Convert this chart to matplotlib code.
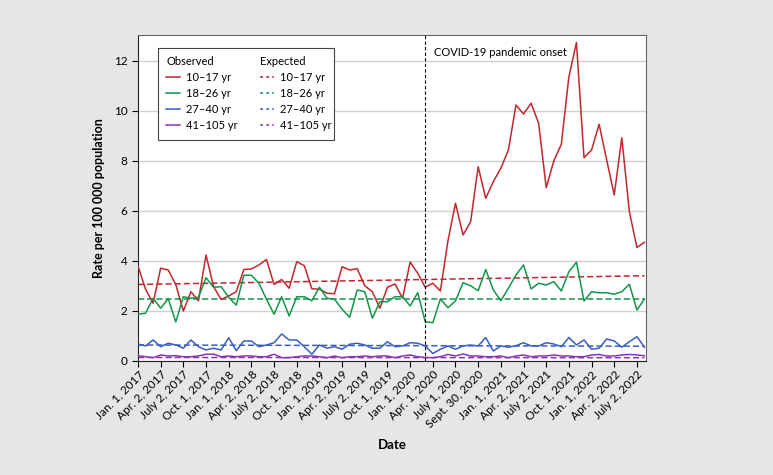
import matplotlib
matplotlib.use("Agg")
import matplotlib.pyplot as plt
import numpy as np
from matplotlib.lines import Line2D
from matplotlib.patches import Rectangle

plt.rcParams['font.family'] = ['Lato', 'DejaVu Sans']

# monthly rates, Jan 2017 .. Aug 2022
months = np.arange(68)

red_obs = [3.79, 2.86, 2.3, 3.7, 3.63, 3.05, 1.99, 2.76, 2.4, 4.23, 2.96, 2.45, 2.59, 2.76,
           3.65, 3.67, 3.83, 4.05, 3.05, 3.25, 2.9, 3.96, 3.8, 2.88, 2.86, 2.7, 2.68, 3.76,
           3.63, 3.68, 3.0, 2.76, 2.1, 2.94, 3.07, 2.5, 3.95, 3.5,
           2.94, 3.1, 2.79, 4.79, 6.3, 5.03, 5.56, 7.76, 6.5, 7.16, 7.7, 8.43, 10.23, 9.87,
           10.3, 9.5, 6.92, 7.99, 8.66, 11.36, 12.73, 8.12, 8.43, 9.46, 8.03, 6.63, 8.92,
           5.96, 4.53, 4.74]
green_obs = [1.86, 1.9, 2.5, 2.1, 2.48, 1.55, 2.56, 2.5, 2.54, 3.32, 2.94, 2.96, 2.54, 2.22,
             3.42, 3.42, 3.1, 2.46, 1.86, 2.56, 1.79, 2.56, 2.56, 2.4, 2.94, 2.5, 2.46, 2.06,
             1.74, 2.83, 2.76, 1.7, 2.36, 2.36, 2.56, 2.56, 2.19, 2.72,
             1.56, 1.52, 2.47, 2.12, 2.39, 3.12, 3.0, 2.8, 3.65, 2.83, 2.4, 2.9, 3.43, 3.83,
             2.87, 3.1, 3.03, 3.16, 2.79, 3.56, 3.94, 2.39, 2.76, 2.72, 2.72, 2.66, 2.76,
             3.06, 2.03, 2.47]
blue_obs = [0.67, 0.59, 0.83, 0.56, 0.7, 0.63, 0.5, 0.83, 0.56, 0.43, 0.5, 0.43, 0.92, 0.4,
            0.79, 0.79, 0.56, 0.63, 0.72, 1.07, 0.83, 0.83, 0.56, 0.26, 0.63, 0.5, 0.56, 0.46,
            0.66, 0.7, 0.63, 0.5, 0.5, 0.76, 0.56, 0.59, 0.72, 0.7,
            0.59, 0.29, 0.46, 0.59, 0.46, 0.59, 0.63, 0.59, 0.93, 0.39, 0.59, 0.54, 0.6, 0.72,
            0.59, 0.59, 0.72, 0.67, 0.56, 0.93, 0.63, 0.83, 0.46, 0.5, 0.87, 0.79, 0.54,
            0.76, 0.96, 0.54]
purple_obs = [0.2, 0.16, 0.12, 0.23, 0.19, 0.2, 0.16, 0.16, 0.19, 0.26, 0.26, 0.16, 0.19, 0.16,
              0.19, 0.19, 0.16, 0.16, 0.26, 0.12, 0.12, 0.16, 0.19, 0.19, 0.16, 0.12, 0.19, 0.12,
              0.16, 0.16, 0.19, 0.16, 0.19, 0.19, 0.12, 0.19, 0.23, 0.16,
              0.13, 0.12, 0.16, 0.25, 0.19, 0.27, 0.19, 0.19, 0.16, 0.16, 0.19, 0.12, 0.19, 0.23,
              0.16, 0.19, 0.19, 0.23, 0.19, 0.19, 0.16, 0.16, 0.23, 0.25, 0.19, 0.19, 0.23,
              0.25, 0.23, 0.2]

# expected (straight lines), start and end values
exp_months = [0, 67]
red_exp = [3.05, 3.40]
green_exp = [2.46, 2.46]
blue_exp = [0.63, 0.58]
purple_exp = [0.13, 0.12]

age_labels = ['10–17 yr', '18–26 yr', '27–40 yr', '41–105 yr']
colors = ['#c1272d', '#13964a', '#3b5dbf', '#8b35b5']

tick_pos = list(range(0, 67, 3))
tick_labels = ['Jan. 1, 2017', 'Apr. 2, 2017', 'July 2, 2017', 'Oct. 1, 2017',
               'Jan. 1, 2018', 'Apr. 2, 2018', 'July 2, 2018', 'Oct. 1, 2018',
               'Jan. 1, 2019', 'Apr. 2, 2019', 'July 2, 2019', 'Oct. 1, 2019',
               'Jan. 1, 2020', 'Apr. 1, 2020', 'July 1, 2020', 'Sept. 30, 2020',
               'Jan. 1, 2021', 'Apr. 2, 2021', 'July 2, 2021', 'Oct. 1, 2021',
               'Jan. 1, 2022', 'Apr. 2, 2022', 'July 2, 2022']
covid_onset = 38

fig = plt.figure(figsize=(7.73, 4.75), dpi=100, facecolor='#e6e6e6')
ax = fig.add_axes([0.1785, 0.2406, 0.6572, 0.6857])
ax.set_facecolor('white')

observed = [red_obs, green_obs, blue_obs, purple_obs]
expected = [red_exp, green_exp, blue_exp, purple_exp]

for vals, c in zip(expected, colors):
    ax.plot(exp_months, vals, color=c, lw=1.1, ls=(0, (4, 2)), zorder=2)
for vals, c in zip(observed, colors):
    ax.plot(months, vals, color=c, lw=1.1, zorder=3)

ax.axvline(covid_onset, color='black', lw=0.8, ls=(0, (3, 2)), zorder=4)
ax.text(covid_onset + 1.2, 12.35, 'COVID-19 pandemic onset', fontsize=8, va='center', ha='left')

ax.set_xlim(0, 67.2)
ax.set_ylim(0, 13.03)
ax.set_yticks(range(0, 13, 2))
ax.set_xticks(tick_pos)
ax.set_xticklabels(tick_labels, rotation=45, ha='right', rotation_mode='anchor', fontsize=8.5)
ax.tick_params(axis='y', labelsize=8.5, length=4, width=0.8)
ax.tick_params(axis='x', length=4, width=0.8, pad=2)
ax.yaxis.grid(True, color='#d0d0d0', lw=1)
ax.set_axisbelow(True)

for s in ['top', 'right']:
    ax.spines[s].set_color('#666666')
for s in ['left', 'bottom']:
    ax.spines[s].set_color('#222222')

ax.set_ylabel('Rate per 100 000 population', fontsize=9, fontweight='bold', labelpad=6)
ax.set_xlabel('Date', fontsize=9.5, fontweight='bold', labelpad=6)

# legend: two frameless columns inside one box
obs_handles = [Line2D([], [], color=c, lw=1.1) for c in colors]
exp_handles = [Line2D([], [], color=c, lw=1.1, ls=(0, (2, 2))) for c in colors]
common = dict(frameon=False, fontsize=8, title_fontsize=8, handlelength=1.2,
              handletextpad=0.6, labelspacing=0.45, borderpad=0, alignment='left')
leg1 = ax.legend(obs_handles, age_labels, title='Observed', loc='upper left',
                 bbox_to_anchor=(0.045, 0.952), **common)
ax.add_artist(leg1)
leg2 = ax.legend(exp_handles, age_labels, title='Expected', loc='upper left',
                 bbox_to_anchor=(0.23, 0.952), **common)
ax.add_patch(Rectangle((0.039, 0.678), 0.347, 0.282, transform=ax.transAxes,
                       facecolor='white', edgecolor='#444444', lw=0.8, zorder=5))
leg1.set_zorder(6)
leg2.set_zorder(6)

fig.savefig('out.png', dpi=100, facecolor=fig.get_facecolor())
